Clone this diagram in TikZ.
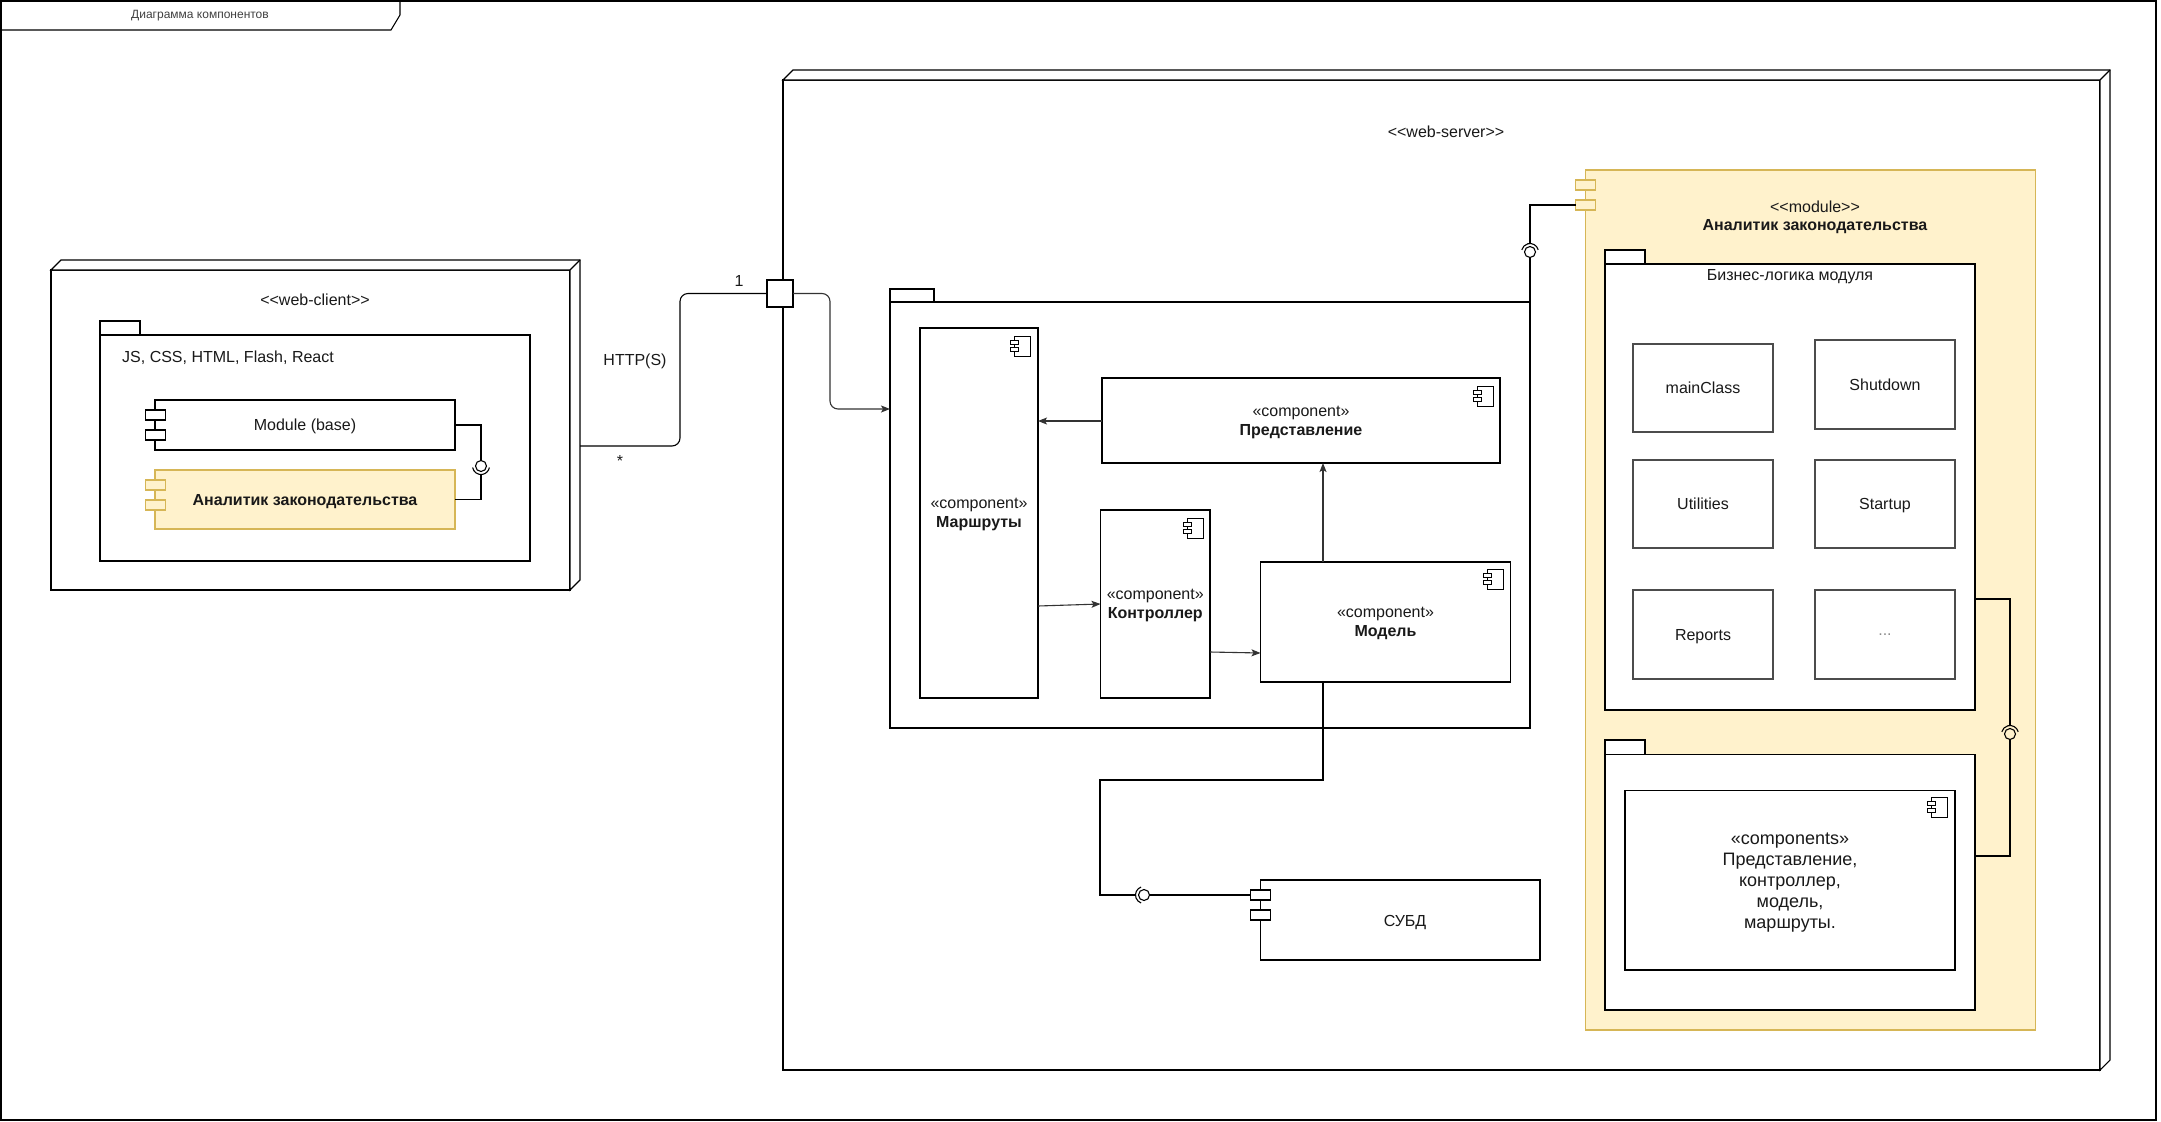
\documentclass[tikz,border=0pt]{standalone}
\usepackage{fontspec}
\setmainfont{Liberation Sans}[Ligatures=TeXOff]
\usetikzlibrary{arrows.meta}
\definecolor{yfill}{HTML}{FFF2CC}
\definecolor{ystroke}{HTML}{D6B656}
\tikzset{
  bx/.style={draw=black, line width=1.1pt, fill=white, inner sep=0pt, outer sep=0pt, anchor=north west,
             text=black!90, font=\fontsize{16}{19}\selectfont, align=center, text depth=0pt},
  ybx/.style={bx, fill=yfill, draw=ystroke},
  gbx/.style={bx, draw=black!70},
  lbl/.style={inner sep=0pt, text=black!90, font=\fontsize{16}{19}\selectfont, align=center},
  ln/.style={line width=1.1pt, draw=black},
  arr/.style={line width=1.1pt, draw=black!80, -{Stealth[length=9pt,width=7pt,inset=2pt]}},
  compicon/.pic={
    \draw[line width=0.9pt, fill=white] (4,0) rectangle (20,-20);
    \draw[line width=0.9pt, fill=white] (0,-4) rectangle (8,-8);
    \draw[line width=0.9pt, fill=white] (0,-11) rectangle (8,-15);
  }
}
\begin{document}
\begin{tikzpicture}[x=1pt,y=1pt]
\useasboundingbox (0,0) rectangle (2161,-1122);
% frame
\draw[ln] (1,-1) rectangle (2156,-1120);
\draw[ln] (1,-30) -- (391,-30) -- (400,-15) -- (400,-1);
\node[lbl, font=\fontsize{12}{14}\selectfont, text=black!75] (title) at (200,-16) {Диаграмма компонентов};

% ---------------- web-client ----------------
\node[bx, minimum width=519pt, minimum height=320pt] (wc) at (51,-270) {};
\draw[ln, fill=white] (51,-270) -- (61,-260) -- (580,-260) -- (580,-580) -- (570,-590) -- (570,-270) -- cycle;
\draw[ln] (570,-270) -- (580,-260);
\coordinate (wcside) at (580,-446);
\node[lbl] (wcst) at (315,-300) {<<web-client>>};
\node[bx, minimum width=40pt, minimum height=14pt] (cpkgtab) at (100,-321) {};
\node[bx, minimum width=430pt, minimum height=226pt] (cpkg) at (100,-335) {};
\node[lbl, anchor=west] (tech) at (122,-358) {JS, CSS, HTML, Flash, React};
\node[bx, minimum width=300pt, minimum height=50pt] (modbase) at (155,-400) {Module (base)};
\node[bx, minimum width=20pt, minimum height=10pt] (mbp1) at (145.5,-410) {};
\node[bx, minimum width=20pt, minimum height=10pt] (mbp2) at (145.5,-430) {};
\node[ybx, minimum width=300pt, minimum height=59pt] (anl) at (155,-470) {\bfseries Аналитик законодательства};
\node[ybx, minimum width=20pt, minimum height=10pt] (anp1) at (145.5,-480) {};
\node[ybx, minimum width=20pt, minimum height=10pt] (anp2) at (145.5,-500) {};
% lollipop 1
\coordinate (ll1) at (481,-466);
\draw[ln] (modbase.east) -| (481,-460.5);
\draw[ln] (ll1) circle[radius=5.5pt];
\draw[ln] (ll1) ++(190:8.5pt) arc[start angle=190, end angle=350, radius=8.5pt];
\draw[ln] (anl.east) -| (481,-474.5);

% ---------------- web-server ----------------
\node[bx, minimum width=1317pt, minimum height=990pt] (ws) at (783,-80) {};
\draw[ln, fill=white] (783,-80) -- (793,-70) -- (2110,-70) -- (2110,-1060) -- (2100,-1070) -- (2100,-80) -- cycle;
\draw[ln] (2100,-80) -- (2110,-70);
\node[lbl] (wsst) at (1446,-132) {<<web-server>>};
\node[bx, minimum width=26pt, minimum height=27pt] (port) at (767,-280) {};

% HTTP connector
\draw[ln, rounded corners=8pt] (wcside) -- (680,-446) -- (680,-293.5) -- (port.west);
\node[lbl] (http) at (635,-361) {HTTP(S)};
\node[lbl] (mstar) at (620,-460.5) {*};
\node[lbl] (mone) at (739,-281) {1};

% MVC package
\node[bx, minimum width=44pt, minimum height=13pt] (mvctab) at (890,-289) {};
\node[bx, minimum width=640pt, minimum height=426pt] (mvc) at (890,-302) {};
\draw[arr, rounded corners=8pt] (port.east) -- (830,-293.5) -- (830,-409) -- (mvc.west |- 0,-409);

\node[bx, minimum width=118pt, minimum height=370pt] (marsh) at (920,-328) {«component»\\\textbf{Маршруты}};
\pic at (1010.5,-336) {compicon};
\node[bx, minimum width=398pt, minimum height=85pt] (pred) at (1102,-378) {«component»\\\textbf{Представление}};
\pic at (1473,-386) {compicon};
\node[bx, minimum width=109.5pt, minimum height=188pt] (ctrl) at (1100.5,-510) {«component»\\\textbf{Контроллер}};
\pic at (1183.5,-518) {compicon};
\node[bx, minimum width=250pt, minimum height=120pt] (model) at (1260.5,-562) {«component»\\\textbf{Модель}};
\pic at (1483,-569) {compicon};

\draw[arr] (pred.west |- 0,-421) -- (marsh.east |- 0,-421);
\draw[arr] (marsh.east |- 0,-606) -- (ctrl.west |- 0,-604);
\draw[arr] (ctrl.east |- 0,-652) -- (model.west |- 0,-653);
\draw[arr] (model.north -| 1323,0) -- (pred.south -| 1323,0);

% DBMS
\node[bx, minimum width=279.3pt, minimum height=80pt] (db) at (1260.7,-880) {};
\node[bx, minimum width=20pt, minimum height=10pt] (dbp1) at (1250.7,-890) {};
\node[bx, minimum width=20pt, minimum height=10pt] (dbp2) at (1250.7,-910) {};
\node[lbl] (dbl) at (1405,-922) {СУБД};
\coordinate (ll2) at (1144,-895);
\draw[ln] (model.south -| 1323,0) -- (1323,-780) -- (1100,-780) -- (1100,-895) -- (1135.5,-895);
\draw[ln] (ll2) ++(110:8.5pt) arc[start angle=110, end angle=250, radius=8.5pt];
\draw[ln] (ll2) circle[radius=5.5pt];
\draw[ln] (1149.5,-895) -- (dbp1.west);

% yellow module
\node[ybx, minimum width=449.7pt, minimum height=860pt] (ymod) at (1585.6,-170) {};
\node[ybx, minimum width=20pt, minimum height=10pt] (ymp1) at (1575.6,-180) {};
\node[ybx, minimum width=20pt, minimum height=10pt] (ymp2) at (1575.6,-200) {};
\node[lbl] (ymst) at (1815,-207) {<<module>>};
\node[lbl] (ymtl) at (1815,-227) {\textbf{Аналитик законодательства}};
\coordinate (ll3) at (1530,-252);
\draw[ln] (ymp2.west) -| (1530,-243.5);
\draw[ln] (ll3) ++(15:8.5pt) arc[start angle=15, end angle=165, radius=8.5pt];
\draw[ln] (ll3) circle[radius=5.5pt];
\draw[ln] (1530,-257.5) -- (mvc.north east);

% business logic package
\node[bx, minimum width=40pt, minimum height=14pt] (biztab) at (1605,-250) {};
\node[bx, minimum width=370pt, minimum height=446pt] (biz) at (1605,-264) {};
\node[lbl] (bizl) at (1790,-277) {Бизнес-логика модуля};
\node[gbx, minimum width=140pt, minimum height=88pt] (mainc) at (1633,-344) {mainClass};
\node[gbx, minimum width=140pt, minimum height=89pt] (shut) at (1815,-340) {Shutdown};
\node[gbx, minimum width=140pt, minimum height=88pt] (util) at (1633,-460) {Utilities};
\node[gbx, minimum width=140pt, minimum height=88pt] (start) at (1815,-460) {Startup};
\node[gbx, minimum width=140pt, minimum height=89pt] (rep) at (1633,-590) {Reports};
\node[gbx, minimum width=140pt, minimum height=89pt, text=black!45] (etc) at (1815,-590) {...};

% UI package
\node[bx, minimum width=40pt, minimum height=14.5pt] (uitab) at (1605,-740) {};
\node[bx, minimum width=370pt, minimum height=255.5pt] (uipkg) at (1605,-754.5) {};
\node[bx, minimum width=330pt, minimum height=179.5pt, font=\fontsize{18}{21}\selectfont] (comps) at (1625,-790.5)
  {«components»\\Представление,\\контроллер,\\модель,\\маршруты.};
\pic at (1927,-797) {compicon};

% lollipop 4
\coordinate (ll4) at (2010,-734);
\draw[ln] (biz.east |- 0,-599) -- (2010,-599) -- (2010,-725.5);
\draw[ln] (ll4) ++(15:8.5pt) arc[start angle=15, end angle=165, radius=8.5pt];
\draw[ln] (ll4) circle[radius=5.5pt];
\draw[ln] (2010,-739.5) -- (2010,-856) -- (uipkg.east |- 0,-856);
\end{tikzpicture}
\end{document}
